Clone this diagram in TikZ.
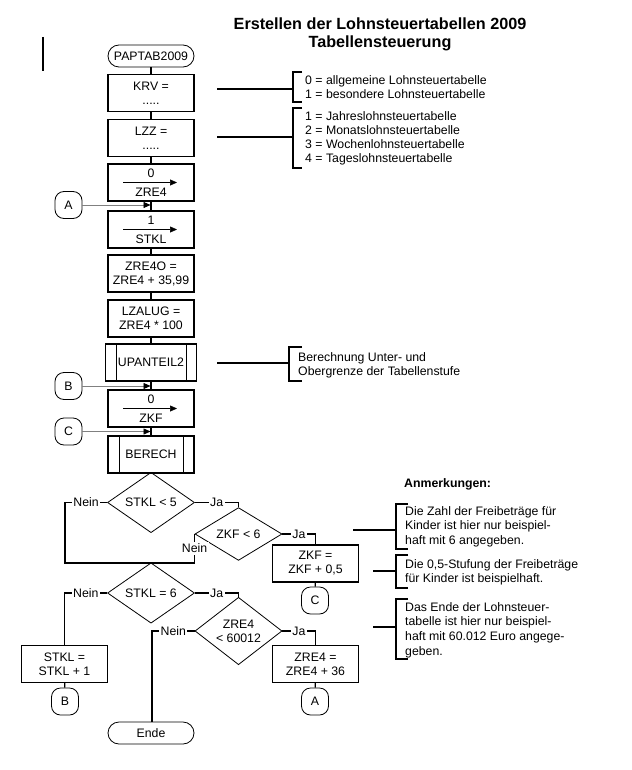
\documentclass[tikz,border=0pt]{standalone}
\usepackage{fontspec}
\setmainfont{Liberation Sans}
\usetikzlibrary{shapes.geometric,arrows.meta}
\begin{document}
\begin{tikzpicture}[x=1pt,y=-1pt,
  font=\fontsize{12.3}{14}\selectfont,
  box/.style={draw, line width=1.4pt, minimum width=86pt, minimum height=37pt, inner sep=1pt, align=center},
  term/.style={draw, line width=0.8pt, rounded corners=11pt, minimum width=86pt, minimum height=22pt, inner sep=0pt},
  conn/.style={draw, line width=0.8pt, rounded corners=9pt, minimum width=27pt, minimum height=27pt, inner sep=0pt},
  dec/.style={diamond, draw, line width=0.8pt, minimum width=87pt, minimum height=52pt, inner sep=0pt, align=center},
  flow/.style={line width=1.3pt},
  lbl/.style={fill=white, inner sep=1.5pt},
  arr/.style={-{Triangle[length=7pt,width=6pt,color=black]}, line width=0.6pt, draw=gray},
  inarr/.style={-{Triangle[length=7pt,width=6pt]}, line width=0.6pt},
  note/.style={anchor=west, align=left, inner sep=0pt}
]
\useasboundingbox (0,0) rectangle (631,770);

% title
\node[font=\bfseries\fontsize{16.2}{18.5}\selectfont, align=center] (title) at (380,34.5) {Erstellen der Lohnsteuertabellen 2009\\Tabellensteuerung};
\coordinate (bar1) at (43,37); \coordinate (bar2) at (43,71);
\draw[flow] (bar1) -- (bar2);

% main column
\node[term] (start) at (151,56) {PAPTAB2009};
\node[box] (krv) at (151,93) {KRV =\\.....};
\node[box] (lzz) at (151,138) {LZZ =\\.....};
\node[box] (z0) at (151,182.5) {0\\[5pt]ZRE4};
\node[box] (s1) at (151,229.5) {1\\[5pt]STKL};
\node[box] (zo) at (151,273.5) {ZRE4O =\\ZRE4 + 35,99};
\node[box] (lz) at (151,318.5) {LZALUG =\\ZRE4 * 100};
\node[box, minimum width=91pt] (up) at (151,362.5) {UPANTEIL2};
\node[box] (kf0) at (151,408.5) {0\\[5pt]ZKF};
\node[box] (ber) at (151,454.5) {BERECH};
\draw[line width=1.2pt] ([xshift=12pt]up.north west) -- ([xshift=12pt]up.south west);
\draw[line width=1.2pt] ([xshift=-11pt]up.north east) -- ([xshift=-11pt]up.south east);
\draw[line width=1.2pt] ([xshift=12pt]ber.north west) -- ([xshift=12pt]ber.south west);
\draw[line width=1.2pt] ([xshift=-11pt]ber.north east) -- ([xshift=-11pt]ber.south east);
\draw[inarr] ([xshift=-28pt]z0.center) -- ([xshift=26pt]z0.center);
\draw[inarr] ([xshift=-28pt]s1.center) -- ([xshift=26pt]s1.center);
\draw[inarr] ([xshift=-28pt]kf0.center) -- ([xshift=26pt]kf0.center);

\node[conn] (ca) at (68.5,205) {A};
\node[conn] (cb) at (68.5,386) {B};
\node[conn] (cc) at (68.5,431.5) {C};

\node[dec] (d1) at (151,502.5) {STKL < 5};
\node[dec] (d2) at (238.5,534) {ZKF < 6};
\node[box] (kf) at (315.5,563.5) {ZKF =\\ZKF + 0,5};
\node[conn] (cc2) at (315,600.5) {C};
\node[dec] (d3) at (151,593) {STKL = 6};
\node[box] (st) at (64.5,664) {STKL =\\STKL + 1};
\node[conn] (cb2) at (65,701.5) {B};
\node[dec] (d4) at (238.5,631) {ZRE4\\< 60012};
\node[term] (end) at (151,733) {Ende};
\node[box] (zr) at (315.5,664) {ZRE4 =\\ZRE4 + 36};
\node[conn] (ca2) at (315,701.5) {A};

\foreach \a/\b in {start/krv, krv/lzz, lzz/z0, z0/s1, s1/zo, zo/lz, lz/up, up/kf0, kf0/ber, ber/d1}
  \draw[flow] (\a) -- (\b);

\draw[arr] (ca.east) -- ([xshift=-0.5pt]ca.east -| z0.south);
\draw[arr] (cb.east) -- ([xshift=-0.5pt]cb.east -| z0.south);
\draw[arr] (cc.east) -- ([xshift=-0.5pt]cc.east -| z0.south);

\coordinate (ml) at (65,563);
\draw[flow] (d1.west) -- node[lbl]{Nein} (d1.west -| ml) -- (ml) -- (ml -| d2.west) -- node[lbl]{Nein} (d2.west);
\draw[flow] (ml -| d1.south) -- (d3.north);
\draw[flow] (d1.east) -- node[lbl]{Ja} (d1.east -| d2.north) -- (d2.north);
\draw[flow] (d2.east) -- node[lbl]{Ja} (d2.east -| kf.north) -- (kf.north);
\draw[flow] (kf) -- (cc2);
\draw[flow] (d3.west) -- node[lbl]{Nein} (d3.west -| st.north) -- (st.north);
\draw[flow] (st) -- (cb2);
\draw[flow] (d3.east) -- node[lbl]{Ja} (d3.east -| d4.north) -- (d4.north);
\draw[flow] (d4.west) -- node[lbl]{Nein} ([xshift=1pt]d4.west -| end.north) -- ([xshift=1pt]end.north);
\draw[flow] (d4.east) -- node[lbl]{Ja} (d4.east -| zr.north) -- (zr.north);
\draw[flow] (zr) -- (ca2);

% annotations top
\coordinate (k1) at (217,89); \coordinate (k2) at (293,89);
\draw[flow] (k1) -- (k2);
\draw[flow] (302,72) -- (293,72) -- (293,102) -- (302,102);
\node[note] (t1) at (305,87) {0 = allgemeine Lohnsteuertabelle\\1 = besondere Lohnsteuertabelle};
\coordinate (l1) at (217,137); \coordinate (l2) at (293,137);
\draw[flow] (l1) -- (l2);
\draw[flow] (302,108) -- (293,108) -- (293,168) -- (302,168);
\node[note] (t2) at (305,138) {1 = Jahreslohnsteuertabelle\\2 = Monatslohnsteuertabelle\\3 = Wochenlohnsteuertabelle\\4 = Tageslohnsteuertabelle};
\coordinate (u1) at (217,363); \coordinate (u2) at (289,363);
\draw[flow] (u1) -- (u2);
\draw[flow] (302,347) -- (289,347) -- (289,381) -- (302,381);
\node[note] (t3) at (298,365) {Berechnung Unter- und\\Obergrenze der Tabellenstufe};

% remarks
\node[note, font=\bfseries\fontsize{12.3}{14}\selectfont] (anm) at (404,484) {Anmerkungen:};
\coordinate (r1) at (353,530); \coordinate (r1b) at (396,530);
\draw[flow] (r1) -- (r1b);
\draw[flow] (408,504) -- (396,504) -- (396,549) -- (408,549);
\node[note, font=\fontsize{12.3}{14.5}\selectfont] (n1) at (405,526.5) {Die Zahl der Freibeträge für\\Kinder ist hier nur beispiel-\\haft mit 6 angegeben.};
\coordinate (r2) at (373,571); \coordinate (r2b) at (396,571);
\draw[flow] (r2) -- (r2b);
\draw[flow] (408,555) -- (396,555) -- (396,588) -- (408,588);
\node[note] (n2) at (405,572) {Die 0,5-Stufung der Freibeträge\\für Kinder ist beispielhaft.};
\coordinate (r3) at (373,627); \coordinate (r3b) at (396,627);
\draw[flow] (r3) -- (r3b);
\draw[flow] (408,599) -- (396,599) -- (396,659) -- (408,659);
\node[note, font=\fontsize{12.3}{14.7}\selectfont] (n3) at (405,630) {Das Ende der Lohnsteuer-\\tabelle ist hier nur beispiel-\\haft mit 60.012 Euro angege-\\geben.};
\end{tikzpicture}
\end{document}
